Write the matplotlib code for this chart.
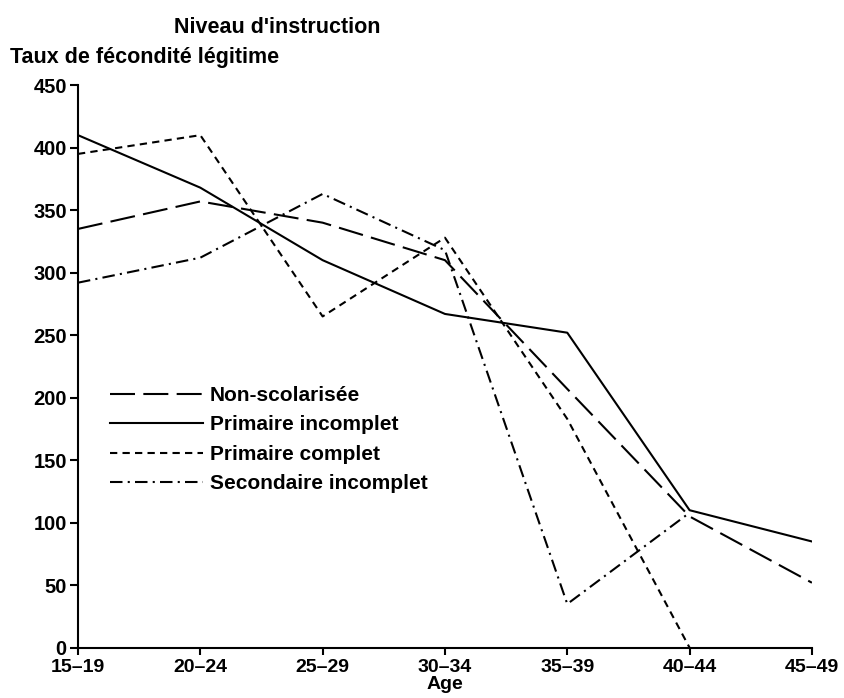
import matplotlib
matplotlib.use("Agg")
import matplotlib.pyplot as plt

plt.rcParams['font.family'] = ['Liberation Sans', 'DejaVu Sans']
plt.rcParams['font.weight'] = 'bold'

ages = ['15–19', '20–24', '25–29', '30–34', '35–39', '40–44', '45–49']
non_scolarisee = [335, 357, 340, 310, 207, 105, 52]
primaire_incomplet = [410, 368, 310, 267, 252, 110, 85]
primaire_complet = [395, 410, 265, 328, 183, 0]
secondaire_incomplet = [292, 312, 363, 318, 35, 108]

fig = plt.figure(figsize=(8.44, 6.98), dpi=100)
ax = fig.add_axes([0.0924, 0.072, 0.962 - 0.0924, 0.878 - 0.072])

lw = 1.5
x = list(range(len(ages)))
ax.plot(x, non_scolarisee, color='black', lw=lw, dashes=(12, 4), label='Non-scolarisée')
ax.plot(x, primaire_incomplet, color='black', lw=lw, label='Primaire incomplet')
ax.plot(x[:len(primaire_complet)], primaire_complet, color='black', lw=lw,
        dashes=(3.5, 2.5), label='Primaire complet')
ax.plot(x[:len(secondaire_incomplet)], secondaire_incomplet, color='black', lw=lw,
        dashes=(6, 2.5, 1, 2.5), label='Secondaire incomplet')

ax.set_xlim(0, len(ages) - 1)
ax.set_ylim(0, 450)
ax.set_xticks(x)
ax.set_xticklabels(ages)
ax.set_yticks(range(0, 451, 50))
ax.tick_params(direction='out', length=6, width=1.5)
ax.tick_params(axis='x', length=5, pad=3, labelsize=14)
ax.tick_params(axis='y', pad=2, labelsize=14.5)
for lab in ax.get_xticklabels() + ax.get_yticklabels():
    lab.set_fontweight('bold')
for s in ['top', 'right']:
    ax.spines[s].set_visible(False)
for s in ['left', 'bottom']:
    ax.spines[s].set_linewidth(1.5)

ax.set_xlabel('Age', fontsize=14, fontweight='bold', labelpad=0)
fig.text(0.328, 0.96, "Niveau d'instruction", fontsize=15.5, fontweight='bold',
         ha='center', va='center')
fig.text(0.012, 0.917, 'Taux de fécondité légitime', fontsize=15.5, fontweight='bold',
         ha='left', va='center')

ax.legend(loc='upper left', bbox_to_anchor=(0.130, 0.447), bbox_transform=fig.transFigure,
          frameon=False, borderaxespad=0, borderpad=0,
          handlelength=4.5, handletextpad=0.3, labelspacing=0.5, fontsize=15)

fig.savefig('out.png', dpi=100)
